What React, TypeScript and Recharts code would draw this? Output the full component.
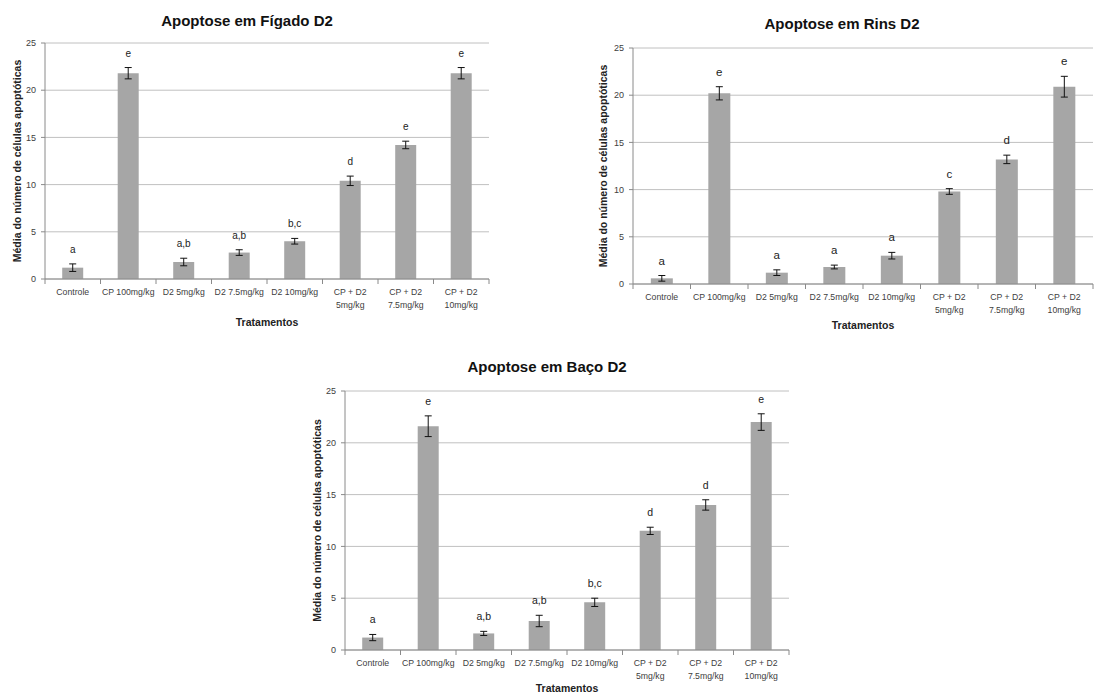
import { BarChart, Bar, XAxis, YAxis, CartesianGrid, ErrorBar, LabelList, Label } from 'recharts'

const categories = [
  'Controle',
  'CP 100mg/kg',
  'D2 5mg/kg',
  'D2 7.5mg/kg',
  'D2 10mg/kg',
  'CP + D2\n5mg/kg',
  'CP + D2\n7.5mg/kg',
  'CP + D2\n10mg/kg',
]
const yTicks = [0, 5, 10, 15, 20, 25]

const figadoMeans = [1.2, 21.8, 1.8, 2.8, 4.0, 10.4, 14.2, 21.8]
const figadoErrs = [0.4, 0.6, 0.4, 0.3, 0.3, 0.5, 0.4, 0.6]
const figadoLetters = ['a', 'e', 'a,b', 'a,b', 'b,c', 'd', 'e', 'e']

const rinsMeans = [0.6, 20.2, 1.2, 1.8, 3.0, 9.8, 13.2, 20.9]
const rinsErrs = [0.3, 0.7, 0.3, 0.2, 0.35, 0.3, 0.45, 1.1]
const rinsLetters = ['a', 'e', 'a', 'a', 'a', 'c', 'd', 'e']

const bacoMeans = [1.2, 21.6, 1.6, 2.8, 4.6, 11.5, 14.0, 22.0]
const bacoErrs = [0.3, 1.0, 0.2, 0.55, 0.4, 0.35, 0.5, 0.8]
const bacoLetters = ['a', 'e', 'a,b', 'a,b', 'b,c', 'd', 'd', 'e']

const FONT = '"Liberation Sans", Arial, sans-serif'
const AXIS = '#8a8a8a'
const TEXT = '#404040'

interface PanelProps {
  left: number
  top: number
  width: number
  height: number
  marginTop: number
  marginRight: number
  title: string
  titleX: number
  titleY: number
  yLabelX: number
  xLabelOffset: number
  letterSize: number
  means: number[]
  errs: number[]
  letters: string[]
}

function Panel(p: PanelProps) {
  const data = categories.map((name, i) => ({
    name,
    mean: p.means[i],
    err: p.errs[i],
    letter: p.letters[i],
  }))
  const step = (p.width - 45 - p.marginRight) / categories.length

  const XTick = (t: any) => {
    const lines = String(t.payload.value).split('\n')
    const axisY = t.y - 9
    return (
      <g>
        <line x1={t.x - step / 2} x2={t.x - step / 2} y1={axisY} y2={axisY + 5} stroke={AXIS} />
        {t.index === categories.length - 1 && (
          <line x1={t.x + step / 2} x2={t.x + step / 2} y1={axisY} y2={axisY + 5} stroke={AXIS} />
        )}
        <text x={t.x} y={axisY + 16} textAnchor="middle" fontSize={8.7} fill={TEXT} fontFamily={FONT}>
          {lines.map((l, i) => (
            <tspan key={i} x={t.x} dy={i === 0 ? 0 : 12.5}>
              {l}
            </tspan>
          ))}
        </text>
      </g>
    )
  }

  const letterLabel = (l: any) => {
    const i = l.index
    const mean = p.means[i]
    const px = mean ? l.height / mean : 0
    const errTop = l.y - p.errs[i] * px
    return (
      <text
        x={l.x + l.width / 2}
        y={errTop - 11}
        textAnchor="middle"
        fontSize={p.letterSize}
        fill="#222"
        fontFamily={FONT}
      >
        {p.letters[i]}
      </text>
    )
  }

  return (
    <div style={{ position: 'absolute', left: p.left, top: p.top, width: p.width, height: p.height }}>
      <div
        style={{
          position: 'absolute',
          left: p.titleX - 150,
          top: p.titleY - 10,
          width: 300,
          textAlign: 'center',
          fontSize: 15,
          fontWeight: 'bold',
          lineHeight: '20px',
          color: '#111',
          fontFamily: FONT,
        }}
      >
        {p.title}
      </div>
      <BarChart
        width={p.width}
        height={p.height}
        data={data}
        margin={{ top: p.marginTop, right: p.marginRight, bottom: 10, left: 0 }}
        barCategoryGap="31%"
      >
        <CartesianGrid vertical={false} stroke="#c0c0c0" />
        <XAxis
          dataKey="name"
          interval={0}
          height={50}
          tickSize={5}
          tickMargin={4}
          tickLine={false}
          stroke={AXIS}
          tick={XTick}
        >
          <Label
            value="Tratamentos"
            position="insideBottom"
            offset={p.xLabelOffset}
            style={{ fontSize: 10.5, fontWeight: 'bold', fill: '#222', fontFamily: FONT }}
          />
        </XAxis>
        <YAxis
          width={45}
          domain={[0, 25]}
          ticks={yTicks}
          tickSize={4}
          tickMargin={5}
          stroke={AXIS}
          tick={{ fontSize: 9, fill: TEXT, fontFamily: FONT }}
        >
          <Label
            value="Média do número de células apoptóticas"
            angle={-90}
            position="insideLeft"
            offset={p.yLabelX}
            style={{ fontSize: 10.5, fontWeight: 'bold', fill: '#222', fontFamily: FONT, textAnchor: 'middle' }}
          />
        </YAxis>
        <Bar dataKey="mean" fill="#a6a6a6" isAnimationActive={false}>
          <ErrorBar dataKey="err" direction="y" width={3.5} stroke="#111" strokeWidth={1} />
          <LabelList dataKey="letter" content={letterLabel} />
        </Bar>
      </BarChart>
    </div>
  )
}

export default function App() {
  return (
    <div
      style={{
        position: 'absolute',
        left: 0,
        top: 0,
        width: 1101,
        height: 697,
        overflow: 'hidden',
        background: '#fff',
        fontFamily: FONT,
      }}
    >
      <Panel
        left={0}
        top={0}
        width={499}
        height={339}
        marginTop={43}
        marginRight={10}
        title="Apoptose em Fígado D2"
        titleX={247}
        titleY={21}
        yLabelX={17}
        xLabelOffset={3}
        letterSize={10}
        means={figadoMeans}
        errs={figadoErrs}
        letters={figadoLetters}
      />
      <Panel
        left={588}
        top={0}
        width={513}
        height={344}
        marginTop={48}
        marginRight={8}
        title="Apoptose em Rins D2"
        titleX={254}
        titleY={24}
        yLabelX={15}
        xLabelOffset={5}
        letterSize={11.5}
        means={rinsMeans}
        errs={rinsErrs}
        letters={rinsLetters}
      />
      <Panel
        left={300}
        top={330}
        width={499}
        height={380}
        marginTop={61}
        marginRight={10}
        title="Apoptose em Baço D2"
        titleX={247}
        titleY={37}
        yLabelX={17}
        xLabelOffset={8}
        letterSize={10.5}
        means={bacoMeans}
        errs={bacoErrs}
        letters={bacoLetters}
      />
    </div>
  )
}
